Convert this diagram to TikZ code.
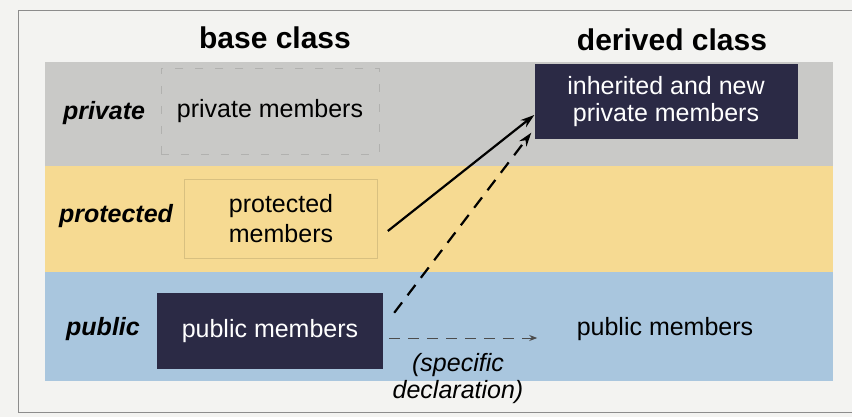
\documentclass[tikz,border=0pt]{standalone}
\usepackage{fontspec}
\setmainfont{Liberation Sans}
\usepackage{tikz}
\usetikzlibrary{arrows.meta, positioning}

\definecolor{paper}{HTML}{F3F3F1}
\definecolor{privband}{HTML}{C9C9C7}
\definecolor{protband}{HTML}{F6DA92}
\definecolor{pubband}{HTML}{A9C6DE}
\definecolor{navy}{HTML}{2B2A45}

\tikzset{
  title/.style={font=\fontsize{30}{34}\selectfont\bfseries},
  rowlabel/.style={font=\fontsize{25}{30}\selectfont\bfseries\itshape},
  member/.style={font=\fontsize{25}{30}\selectfont, align=center},
  darkbox/.style={member, fill=navy, text=white, font=\fontsize{25}{27}\selectfont},
  faintbox/.style={draw=#1!88!black, line width=0.7pt},
  inherit/.style={-{Stealth[length=14pt,width=9pt]}, line width=2.2pt},
}

\begin{document}
\begin{tikzpicture}[x=1pt, y=-1pt]
    \useasboundingbox (0,0) rectangle (852,417);
    \fill[paper] (0,0) rectangle (852,417);
    \draw[black!45, line width=0.8pt] (852,10) -- (18,10) -- (18,412) -- (852,412);

    % bands
    \fill[privband] (45,62) rectangle (833,166);
    \fill[protband] (45,166) rectangle (833,272);
    \fill[pubband] (45,272) rectangle (833,381);

    % column titles
    \node[title] (basetitle) at (275,38) {base class};
    \node[title] (derivedtitle) at (672,40) {derived class};

    % row labels
    \node[rowlabel] (privlabel) at (104,113) {private};
    \node[rowlabel] (protlabel) at (116,216) {protected};
    \node[rowlabel] (publabel) at (103,329) {public};

    % base class members
    \node[member, faintbox=privband, dash pattern=on 8pt off 12pt, minimum width=218pt, minimum height=86pt] (privmem) at (270,111) {private members};
    \node[member, faintbox=protband, minimum width=193pt, minimum height=79pt] (protmem) at (281,219) {protected\\members};
    \node[darkbox, minimum width=226pt, minimum height=76pt] (pubmem) at (270,331) {public members};

    % derived class members
    \node[darkbox, minimum width=263pt, minimum height=75pt] (newpriv) at (666,102) {inherited and new\\private members};
    \node[member] (derpub) at (665,329) {public members};
    \node[member, font=\fontsize{25}{27}\selectfont\itshape] (spec) at (458,379) {(specific\\declaration)};

    % arrows
    \draw[inherit] ([xshift=10pt,yshift=-12pt]protmem.east) -- ([yshift=-13pt]newpriv.west);
    \draw[inherit, dash pattern=on 13pt off 9pt] ([xshift=11pt,yshift=-20pt]pubmem.north east) -- ([xshift=-3pt,yshift=7pt]newpriv.south west);
    \draw[-{Stealth[length=8pt,width=6pt]}, black!70, line width=1pt, dash pattern=on 11pt off 8pt] ([xshift=6pt,yshift=-7pt]pubmem.east) -- ([xshift=-36pt,yshift=-9pt]derpub.west);
\end{tikzpicture}
\end{document}
